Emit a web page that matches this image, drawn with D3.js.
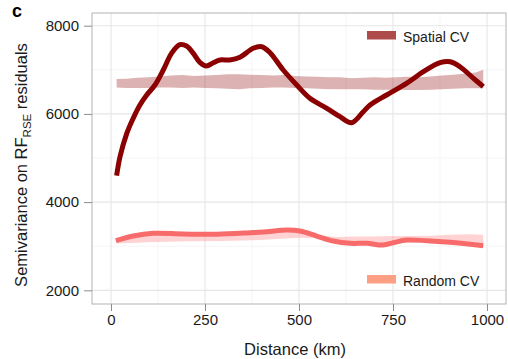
<!DOCTYPE html>
<html>
<head>
<meta charset="utf-8">
<script src="https://cdn.jsdelivr.net/npm/d3@7"></script>
<style>
  html, body { margin: 0; padding: 0; background: #fff; }
  svg { display: block; font-family: "Liberation Sans", Arial, Helvetica, sans-serif; }
</style>
</head>
<body>
<svg id="chart" width="508" height="359"></svg>
<script>
// ---- Data ----
const spatialDist = [15, 24, 42, 59, 77, 95, 117, 139, 161, 183, 201, 219, 237, 254, 272, 290, 316, 343, 378, 401, 423, 458, 494, 529, 574, 609, 640, 671, 689, 733, 786, 831, 875, 902, 928, 964, 990];
const spatialSemivar = [4600, 5029, 5560, 5900, 6202, 6429, 6655, 6995, 7374, 7570, 7540, 7374, 7161, 7086, 7161, 7222, 7222, 7283, 7488, 7524, 7388, 6995, 6655, 6354, 6127, 5937, 5800, 6050, 6202, 6429, 6694, 6957, 7161, 7184, 7070, 6807, 6617];

const spatialBandDist = [15, 40, 70, 100, 130, 160, 190, 220, 250, 280, 310, 340, 370, 400, 430, 460, 490, 520, 550, 580, 610, 640, 670, 700, 730, 760, 790, 820, 850, 880, 910, 940, 970, 990];
const spatialBandUpper = [6790, 6800, 6820, 6830, 6850, 6870, 6880, 6860, 6870, 6880, 6900, 6900, 6890, 6880, 6870, 6880, 6860, 6850, 6840, 6830, 6830, 6810, 6820, 6830, 6820, 6830, 6840, 6830, 6850, 6870, 6890, 6910, 6940, 7000];
const spatialBandLower = [6600, 6590, 6585, 6590, 6600, 6600, 6590, 6600, 6590, 6580, 6570, 6560, 6580, 6590, 6600, 6600, 6590, 6580, 6570, 6560, 6560, 6560, 6560, 6550, 6550, 6545, 6540, 6540, 6550, 6560, 6570, 6580, 6580, 6580];

const randomDist = [13, 59, 112, 192, 281, 370, 414, 467, 503, 547, 591, 636, 680, 724, 751, 786, 840, 902, 990];
const randomSemivar = [3125, 3231, 3292, 3277, 3270, 3306, 3329, 3367, 3345, 3231, 3118, 3066, 3066, 3027, 3080, 3140, 3125, 3088, 3011];

const randomBandDist = [15, 100, 200, 300, 400, 450, 500, 550, 600, 650, 700, 750, 800, 850, 900, 950, 990];
const randomBandLower = [3060, 3090, 3110, 3120, 3140, 3170, 3190, 3180, 3090, 3040, 3040, 3050, 3100, 3090, 3070, 3040, 3000];
const randomBandUpper = [3170, 3300, 3290, 3290, 3310, 3360, 3360, 3250, 3210, 3220, 3220, 3230, 3230, 3240, 3260, 3270, 3260];

const xTicks = [0, 250, 500, 750, 1000];
const xMinor = [125, 375, 625, 875];
const yTicks = [2000, 4000, 6000, 8000];
const yMinor = [3000, 5000, 7000];

const legendLabels = ["Spatial CV", "Random CV"];

// ---- Layout ----
const svg = d3.select("#chart");
const L = 92, R = 506, T = 13, B = 304;
const x = d3.scaleLinear().domain([-50.5, 1050.5]).range([L, R]);
const y = d3.scaleLinear().domain([1690, 8288]).range([B, T]);

// grid
const grid = svg.append("g");
grid.selectAll(".xmin").data(xMinor).enter().append("line")
  .attr("x1", d => x(d)).attr("x2", d => x(d)).attr("y1", T).attr("y2", B)
  .attr("stroke", "#f2f2f2").attr("stroke-width", 0.8);
grid.selectAll(".ymin").data(yMinor).enter().append("line")
  .attr("y1", d => y(d)).attr("y2", d => y(d)).attr("x1", L).attr("x2", R)
  .attr("stroke", "#f2f2f2").attr("stroke-width", 0.8);
grid.selectAll(".xmaj").data(xTicks).enter().append("line")
  .attr("x1", d => x(d)).attr("x2", d => x(d)).attr("y1", T).attr("y2", B)
  .attr("stroke", "#e6e6e6").attr("stroke-width", 1.1);
grid.selectAll(".ymaj").data(yTicks).enter().append("line")
  .attr("y1", d => y(d)).attr("y2", d => y(d)).attr("x1", L).attr("x2", R)
  .attr("stroke", "#e6e6e6").attr("stroke-width", 1.1);

// bands
const area = (xs, lo, hi) => d3.area()
  .x((d, i) => x(xs[i])).y0((d, i) => y(lo[i])).y1((d, i) => y(hi[i]))
  .curve(d3.curveLinear)(xs);

svg.append("path").attr("d", area(spatialBandDist, spatialBandLower, spatialBandUpper))
  .attr("fill", "#8b0000").attr("fill-opacity", 0.3);
svg.append("path").attr("d", area(randomBandDist, randomBandLower, randomBandUpper))
  .attr("fill", "#ff8080").attr("fill-opacity", 0.35);

// lines
const line = (xs, ys) => d3.line().x((d, i) => x(xs[i])).y((d, i) => y(ys[i]))
  .curve(d3.curveCatmullRom.alpha(0.5))(xs);

svg.append("path").attr("d", line(randomDist, randomSemivar))
  .attr("fill", "none").attr("stroke", "#f86b6b").attr("stroke-width", 5)
  .attr("stroke-linejoin", "round").attr("stroke-linecap", "butt");
svg.append("path").attr("d", line(spatialDist, spatialSemivar))
  .attr("fill", "none").attr("stroke", "#8b0000").attr("stroke-width", 5)
  .attr("stroke-linejoin", "round").attr("stroke-linecap", "butt");

// panel border
svg.append("rect").attr("x", L).attr("y", T).attr("width", R - L).attr("height", B - T)
  .attr("fill", "none").attr("stroke", "#b3b3b3").attr("stroke-width", 1);

// axes
const xAxis = d3.axisBottom(x).tickValues(xTicks).tickSize(7).tickPadding(3).tickFormat(d3.format("d"));
const gx = svg.append("g").attr("transform", `translate(0,${B})`).call(xAxis);
gx.select(".domain").remove();
gx.selectAll(".tick line").attr("stroke", "#8c8c8c");
gx.selectAll(".tick text").attr("font-size", 15).attr("fill", "#1a1a1a")
  .attr("font-family", "'Liberation Sans', Arial, sans-serif");

const yAxis = d3.axisLeft(y).tickValues(yTicks).tickSize(8).tickPadding(5).tickFormat(d3.format("d"));
const gy = svg.append("g").attr("transform", `translate(${L},0)`).call(yAxis);
gy.select(".domain").remove();
gy.selectAll(".tick line").attr("stroke", "#8c8c8c");
gy.selectAll(".tick text").attr("font-size", 15).attr("fill", "#1a1a1a")
  .attr("font-family", "'Liberation Sans', Arial, sans-serif");

// axis titles
svg.append("text").attr("x", 295).attr("y", 355).attr("text-anchor", "middle")
  .attr("font-size", 16.5).attr("fill", "#1a1a1a").text("Distance (km)");

const yt = svg.append("text").attr("transform", "translate(27,165) rotate(-90)")
  .attr("text-anchor", "middle").attr("font-size", 16.5).attr("fill", "#1a1a1a");
yt.append("tspan").text("Semivariance on RF");
yt.append("tspan").attr("font-size", 11.5).attr("dy", 4).text("RSE");
yt.append("tspan").attr("dy", -4).text(" residuals");

// panel label
svg.append("text").attr("x", 12).attr("y", 17).attr("font-size", 18)
  .attr("font-weight", "bold").attr("fill", "#000").text("c");

// legends
const legendColors = ["#ae4b4b", "#fd9f84"];
const legendY = [31, 275];
legendLabels.forEach((lab, i) => {
  svg.append("rect").attr("x", 367).attr("y", legendY[i]).attr("width", 29).attr("height", 8.5)
    .attr("fill", legendColors[i]);
  svg.append("text").attr("x", 403).attr("y", legendY[i] + 11).attr("font-size", 14)
    .attr("fill", "#1a1a1a").text(lab);
});
</script>
</body>
</html>
